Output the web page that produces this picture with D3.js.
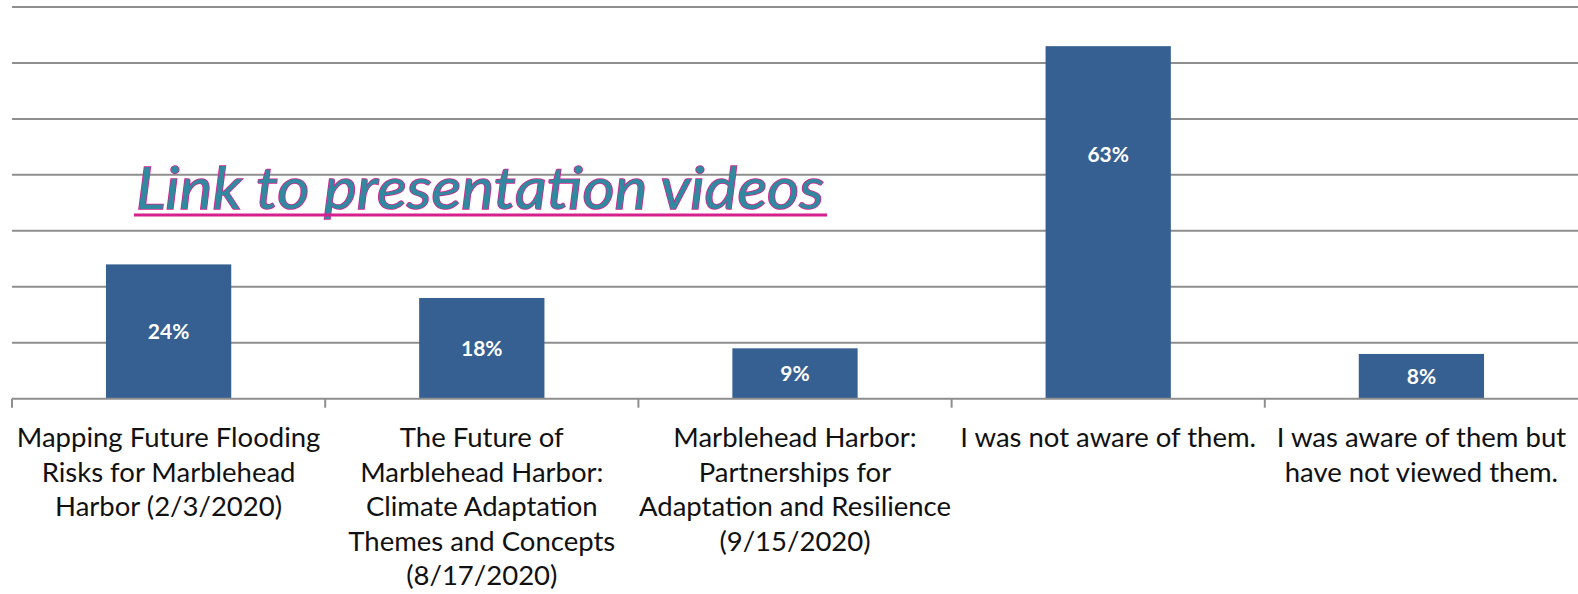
<!DOCTYPE html>
<html>
<head>
<meta charset="utf-8">
<script src="https://cdn.jsdelivr.net/npm/d3@7"></script>
<style>
  body { margin: 0; background: #fff; }
</style>
</head>
<body>
<svg id="chart" width="1578" height="594"></svg>
<script>
    // survey answers, one line of the label per "\n"
    const categories = [
        "Mapping Future Flooding\nRisks for Marblehead\nHarbor (2/3/2020)",
        "The Future of\nMarblehead Harbor:\nClimate Adaptation\nThemes and Concepts\n(8/17/2020)",
        "Marblehead Harbor:\nPartnerships for\nAdaptation and Resilience\n(9/15/2020)",
        "I was not aware of them.",
        "I was aware of them but\nhave not viewed them."
    ];
    const values = [24, 18, 9, 63, 8];
    const yTicks = [0, 10, 20, 30, 40, 50, 60, 70];
    const linkText = "Link to presentation videos";

    const svg = d3.select("#chart");
    const width = +svg.attr("width");
    const margin = { top: 7, left: 12, right: 0, bottom: 195 };
    const baseY = 398.7;

    const x = d3.scaleBand()
                .domain(categories)
                .range([margin.left, width - margin.right])
                .padding(0);

    const y = d3.scaleLinear()
                .domain([0, 70])
                .range([baseY, margin.top]);

    const labelFont = "Lato, 'Open Sans', sans-serif";

    // gridlines
    svg.append("g")
        .selectAll("line")
        .data(yTicks.filter(d => d > 0))
        .join("line")
        .attr("x1", margin.left)
        .attr("x2", width)
        .attr("y1", d => y(d))
        .attr("y2", d => y(d))
        .attr("stroke", "#8e8e8e")
        .attr("stroke-width", 2);

    // bars
    const barW = x.bandwidth() * 0.4;
    svg.append("g")
        .selectAll("rect")
        .data(values)
        .join("rect")
        .attr("x", (d, i) => x(categories[i]) + (x.bandwidth() - barW) / 2)
        .attr("y", d => y(d))
        .attr("width", barW)
        .attr("height", d => y(0) - y(d))
        .attr("fill", "#366092");

    // x axis
    const xAxis = svg.append("g")
        .attr("transform", "translate(0," + baseY + ")");
    xAxis.append("line")
        .attr("x1", margin.left).attr("x2", width)
        .attr("stroke", "#8e8e8e").attr("stroke-width", 2);
    xAxis.selectAll("line.tick")
        .data(categories)
        .join("line")
        .attr("class", "tick")
        .attr("x1", d => x(d)).attr("x2", d => x(d))
        .attr("y1", 0).attr("y2", 9)
        .attr("stroke", "#8e8e8e").attr("stroke-width", 2);

    // category labels
    const catText = svg.append("g")
        .selectAll("text")
        .data(categories)
        .join("text")
        .attr("x", d => x(d) + x.bandwidth() / 2)
        .attr("text-anchor", "middle")
        .attr("font-family", labelFont)
        .attr("font-size", 27.5)
        .attr("fill", "#111");
    catText.selectAll("tspan")
        .data(d => d.split("\n"))
        .join("tspan")
        .attr("x", function() { return d3.select(this.parentNode).attr("x"); })
        .attr("y", (d, i) => 447 + i * 34.5)
        .text(d => d);

    // value labels, centred in the bar (tallest one sits higher, as in the original)
    svg.append("g")
        .selectAll("text")
        .data(values)
        .join("text")
        .attr("x", (d, i) => x(categories[i]) + x.bandwidth() / 2)
        .attr("y", d => Math.min((y(d) + y(0)) / 2, y(d) + 108) + 7.5)
        .attr("text-anchor", "middle")
        .attr("font-family", labelFont)
        .attr("font-weight", "bold")
        .attr("font-size", 21)
        .attr("fill", "#fff")
        .text(d => d + "%");

    // hyperlink text
    const link = svg.append("g");
    link.append("text")
        .attr("x", 136)
        .attr("y", 209)
        .attr("font-family", labelFont)
        .attr("font-style", "italic")
        .attr("font-size", 58)
        .attr("textLength", 688)
        .attr("lengthAdjust", "spacingAndGlyphs")
        .attr("fill", "#3189a0")
        .attr("stroke", "#d6208e")
        .attr("stroke-width", 1.5)
        .attr("paint-order", "stroke")
        .text(linkText);
    link.append("line")
        .attr("x1", 134).attr("x2", 827)
        .attr("y1", 215).attr("y2", 215)
        .attr("stroke", "#d6208e")
        .attr("stroke-width", 3);
</script>
</body>
</html>
